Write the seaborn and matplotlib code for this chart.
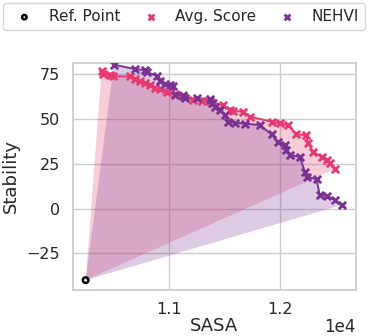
import numpy as np
import seaborn as sns
from matplotlib import pyplot as plt

# reference point and the two pareto fronts (SASA, Stability)
ref_sasa = 10250
ref_stab = -40

avg_sasa = [10394, 10408, 10468, 10498, 10649, 10694, 10739, 10784, 10829, 10874,
            10919, 10979, 11054, 11129, 11219, 11295, 11369, 11399, 11489, 11550,
            11580, 11669, 11730, 11925, 12000, 12075, 12150, 12240, 12255, 12300,
            12376, 12421, 12450, 12495]
avg_stab = [76.8, 75.2, 74.5, 74.0, 73.9, 72.6, 71.4, 70.1, 69.2, 67.6,
            67.0, 65.0, 64.2, 63.4, 60.6, 60.4, 60.1, 59.2, 57.9, 55.1,
            54.7, 54.1, 51.4, 48.6, 47.7, 46.7, 41.5, 41.1, 36.5, 31.8,
            29.0, 27.2, 25.3, 22.1]

nehvi_sasa = [10505, 10694, 10784, 10800, 10889, 10919, 10964, 11009, 11039, 11054,
              11129, 11144, 11250, 11369, 11385, 11414, 11459, 11505, 11534, 11595,
              11685, 11820, 11925, 11985, 12045, 12060, 12090, 12180, 12225, 12241,
              12331, 12360, 12426, 12495, 12556]
nehvi_stab = [80.5, 78.0, 77.5, 76.5, 74.2, 71.5, 69.8, 69.0, 68.5, 63.5,
              62.9, 61.6, 61.6, 61.4, 59.2, 56.6, 55.1, 52.3, 48.6, 48.0,
              47.5, 46.7, 41.5, 37.1, 35.5, 32.8, 30.0, 29.0, 20.6, 17.9,
              16.4, 7.6, 7.2, 4.8, 2.0]

pink = '#e6396f'
purple = '#7a3292'

sns.set_theme(style='whitegrid')
plt.rcParams['font.family'] = ['DejaVu Sans']

fig = plt.figure(figsize=(3.68, 3.36), dpi=100)
ax = fig.add_axes([0.198, 0.137, 0.769, 0.676])

# dominated regions
ax.fill([ref_sasa] + avg_sasa + [ref_sasa], [ref_stab] + avg_stab + [ref_stab],
        color=pink, alpha=0.25, lw=0)
ax.fill([ref_sasa] + nehvi_sasa + [ref_sasa], [ref_stab] + nehvi_stab + [ref_stab],
        color=purple, alpha=0.25, lw=0)

ax.scatter([ref_sasa], [ref_stab], facecolors='none', edgecolors='black',
           s=16, linewidths=1.8, label='Ref. Point', zorder=5)

sns.lineplot(x=avg_sasa, y=avg_stab, color=pink, lw=1.4, sort=False, ax=ax)
sns.scatterplot(x=avg_sasa, y=avg_stab, marker='x', color=pink, s=28,
                linewidth=2, label='Avg. Score', ax=ax, zorder=4)
sns.lineplot(x=nehvi_sasa, y=nehvi_stab, color=purple, lw=1.4, sort=False, ax=ax)
sns.scatterplot(x=nehvi_sasa, y=nehvi_stab, marker='x', color=purple, s=28,
                linewidth=2, label='NEHVI', ax=ax, zorder=4)

ax.set_xlim(10135, 12685)
ax.set_ylim(-45.5, 81.5)
ax.set_xticks([11000, 12000])
ax.set_yticks([-25, 0, 25, 50, 75])
ax.ticklabel_format(style='sci', axis='x', scilimits=(0, 0))
ax.tick_params(labelsize=11.5, pad=3)
ax.xaxis.get_offset_text().set_visible(False)
ax.text(1.0, -0.163, '1e4', transform=ax.transAxes, ha='right', va='center',
        fontsize=12, color='.15')
ax.set_xlabel('SASA', fontsize=13, labelpad=0)
ax.set_ylabel('Stability', fontsize=13, labelpad=5)

ax.legend(loc='upper left', bbox_to_anchor=(0.008, 0.991, 0.984, 0.0),
          bbox_transform=fig.transFigure, mode='expand', ncol=3,
          fontsize=11, markerscale=0.8, handletextpad=0.6,
          frameon=True, borderaxespad=0)

fig.savefig('out.png', dpi=100)
